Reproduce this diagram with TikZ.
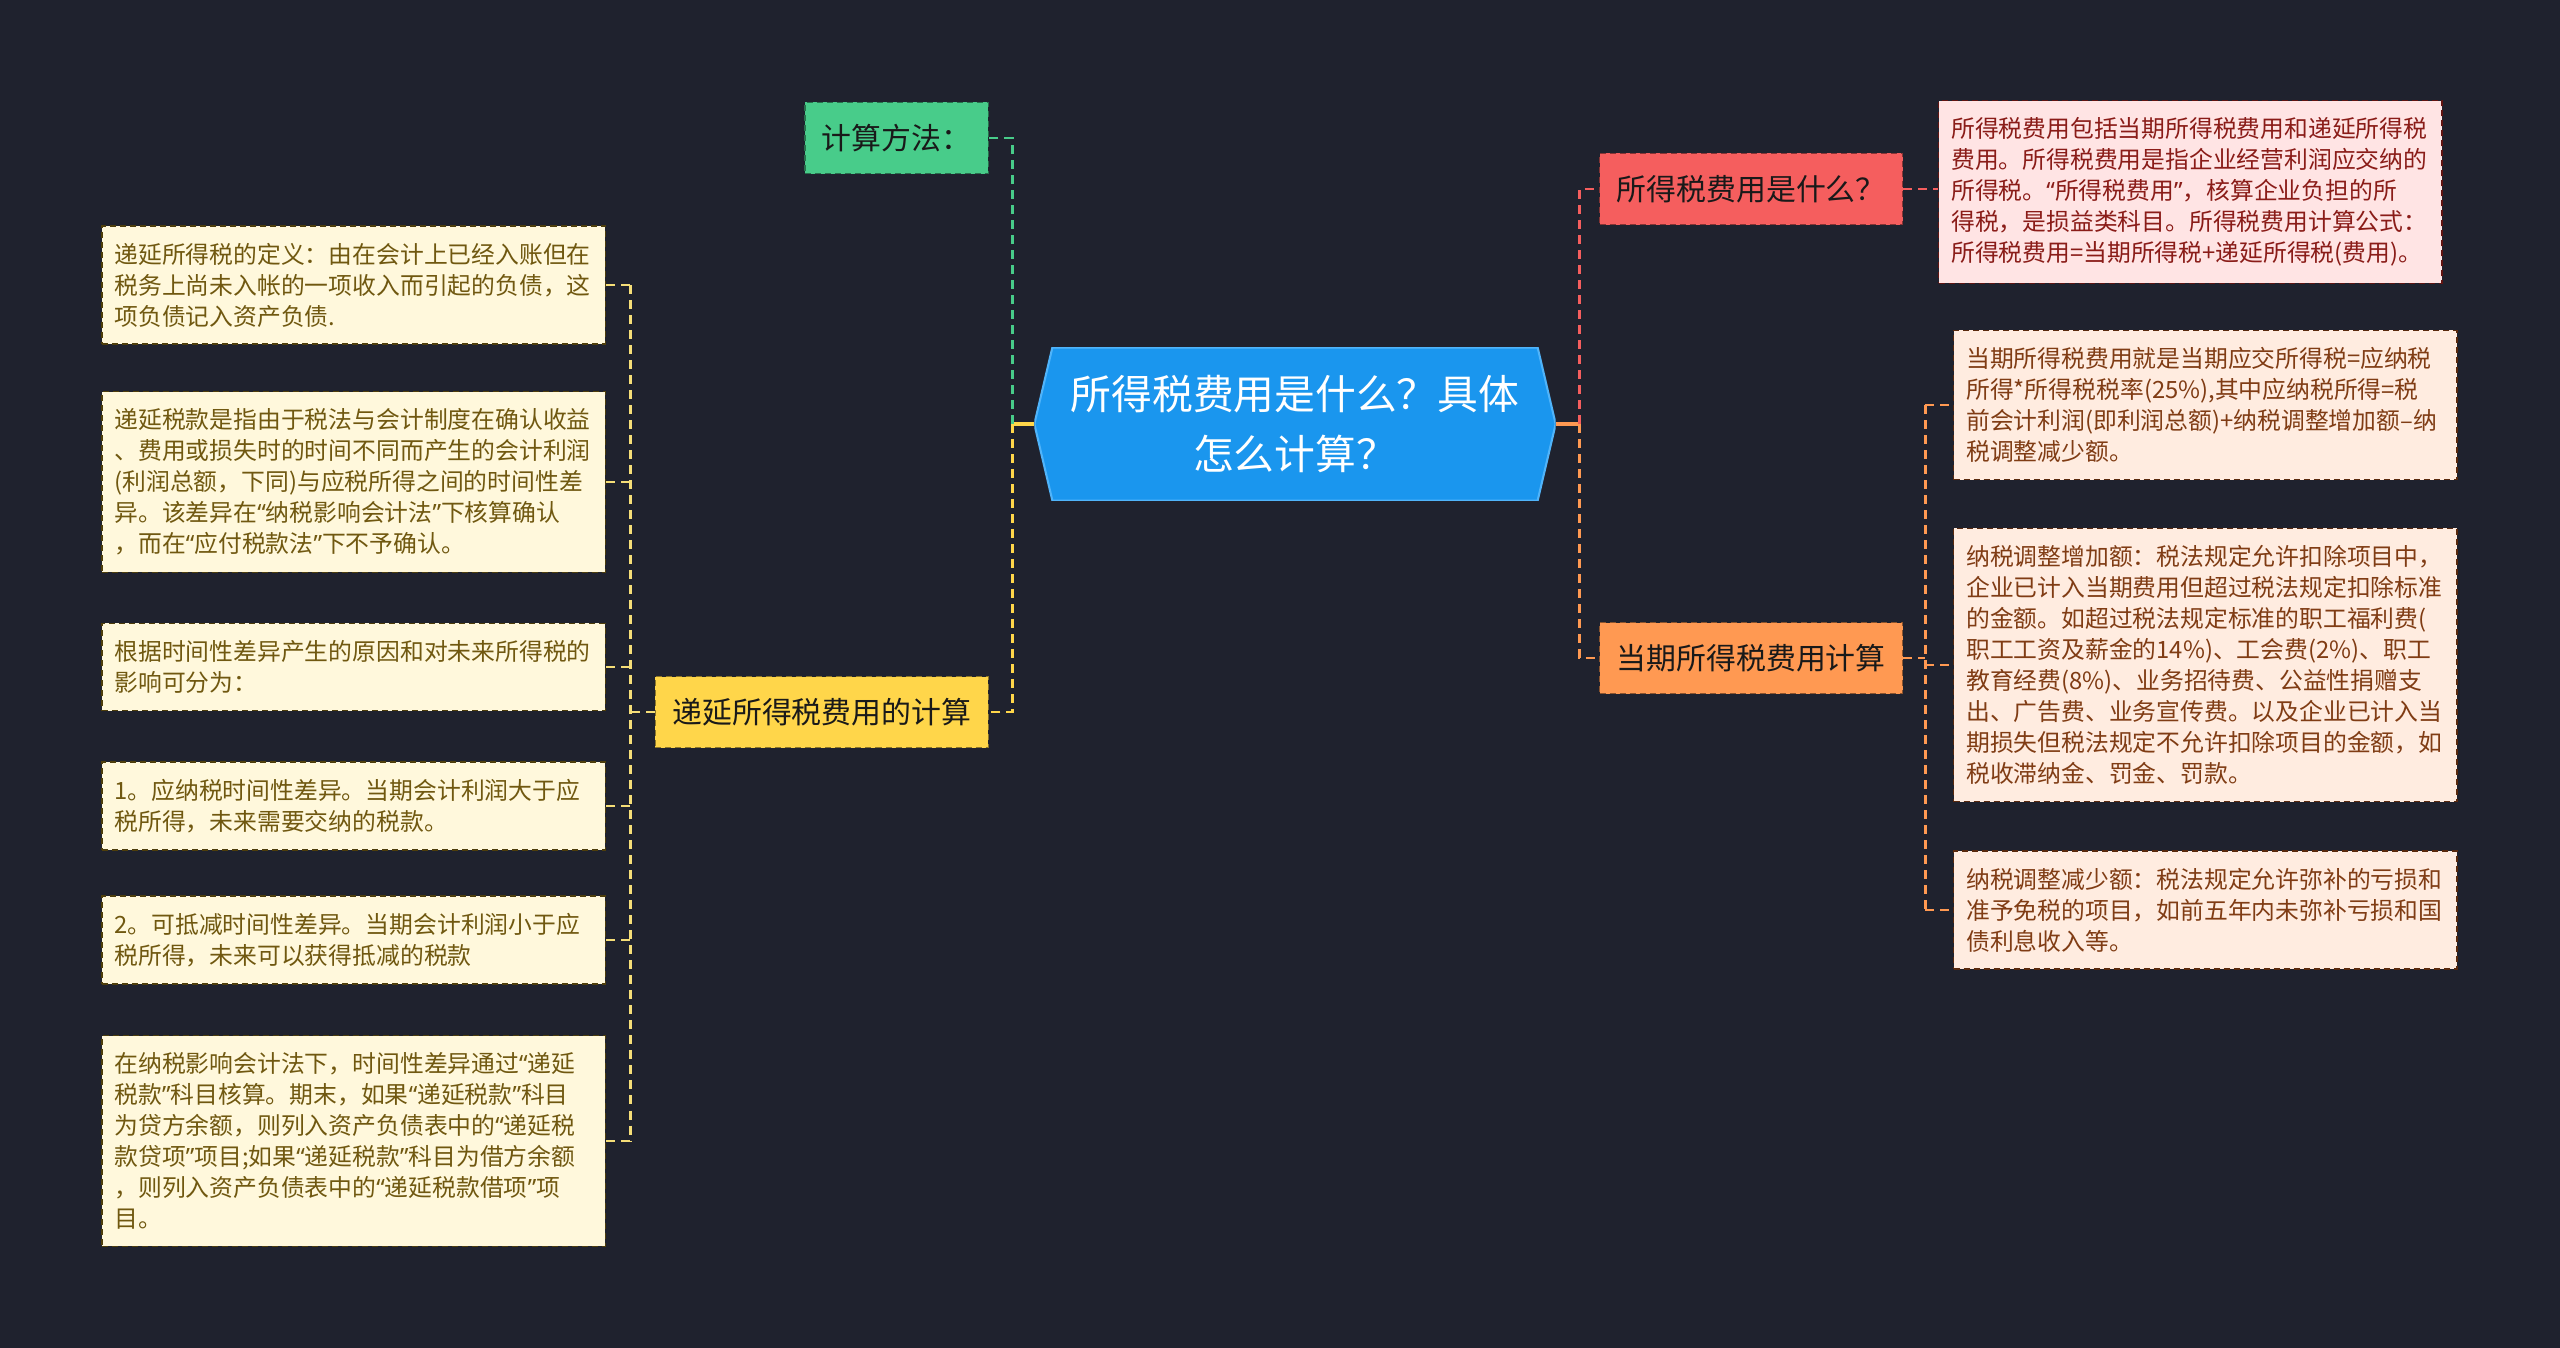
\documentclass[tikz,border=0pt]{standalone}
\usepackage{fontspec}
\setmainfont{Noto Sans CJK SC}
\newfontfamily\quotefont{Noto Sans}
\newcommand{\lqm}{{\quotefont “}}
\newcommand{\rqm}{{\quotefont ”}}
\usepackage{tikz}
\usetikzlibrary{calc}

\definecolor{bgnavy}{RGB}{31,34,46}
\definecolor{hexblue}{RGB}{26,150,238}
\definecolor{hexedge}{RGB}{80,180,250}
\definecolor{topgreen}{RGB}{72,204,138}
\definecolor{topyellow}{RGB}{255,214,74}
\definecolor{topred}{RGB}{245,94,94}
\definecolor{toporange}{RGB}{255,153,82}
\definecolor{leafcream}{RGB}{255,248,220}
\definecolor{leafpink}{RGB}{255,228,228}
\definecolor{leafpeach}{RGB}{255,236,224}
\definecolor{inkolive}{RGB}{112,88,16}
\definecolor{inkred}{RGB}{138,28,24}
\definecolor{inkbrown}{RGB}{128,60,20}
\definecolor{linkpale}{RGB}{245,222,120}

\tikzset{
	topic/.style={rectangle, fill=#1, draw=#1!55!black, line width=0.4pt, dash pattern=on 0.6mm off 0.4mm,
		inner xsep=0.17cm, minimum height=0.71cm, text=black!90, font=\fontsize{8.5pt}{10pt}\selectfont},
	leaf/.style={rectangle, line width=0.4pt, dash pattern=on 0.6mm off 0.4mm, text width=4.78cm, align=left,
		inner xsep=0.125cm, inner ysep=0.17cm, font=\fontsize{6.77pt}{8.82pt}\selectfont},
	cream/.style={leaf, fill=leafcream, draw=inkolive!70!black, text=inkolive},
	pink/.style={leaf, fill=leafpink, draw=inkred!70!black, text=inkred},
	peach/.style={leaf, fill=leafpeach, draw=inkbrown!70!black, text=inkbrown},
	hexnode/.style={minimum width=5.21cm, minimum height=1.53cm, inner sep=0pt, align=center, text=white,
		font=\fontsize{11.6pt}{17.3pt}\selectfont,
		path picture={
			\filldraw[fill=hexblue, draw=hexedge, line width=0.6pt]
				(path picture bounding box.west)
				-- ($(path picture bounding box.north west)+(0.18cm,0)$)
				-- ($(path picture bounding box.north east)+(-0.18cm,0)$)
				-- (path picture bounding box.east)
				-- ($(path picture bounding box.south east)+(-0.18cm,0)$)
				-- ($(path picture bounding box.south west)+(0.18cm,0)$)
				-- cycle;
		}},
	link/.style={line width=0.8pt, dash pattern=on 0.9mm off 0.6mm},
	stub/.style={line width=1.3pt}
}

\begin{document}
\begin{tikzpicture}[x=0.01cm, y=-0.01cm]
				\def\xL{606}
				\def\xR{1953}

				\useasboundingbox (0,0) rectangle (2560,1347);
				\fill[bgnavy] (-20,-20) rectangle (2580,1367);

				% centre
				\node[hexnode] (root) at (1295,424) {所得税费用是什么？具体\\怎么计算？};

				% first level
				\node[topic=topgreen, anchor=east] (method) at (989,138) {计算方法：};
				\node[topic=topyellow, anchor=east] (deferred) at (989,712) {递延所得税费用的计算};
				\node[topic=topred, anchor=west] (whatis) at (1599,189) {所得税费用是什么？};
				\node[topic=toporange, anchor=west] (current) at (1599,658) {当期所得税费用计算};

				% left leaves
				\node[cream, anchor=east] (d1) at (\xL,285) {递延所得税的定义：由在会计上已经入账但在\\税务上尚未入帐的一项收入而引起的负债，这\\项负债记入资产负债.};
				\node[cream, anchor=east] (d2) at (\xL,482) {递延税款是指由于税法与会计制度在确认收益\\、费用或损失时的时间不同而产生的会计利润\\(利润总额，下同)与应税所得之间的时间性差\\异。该差异在\lqm 纳税影响会计法\rqm 下核算确认\\，而在\lqm 应付税款法\rqm 下不予确认。};
				\node[cream, anchor=east] (d3) at (\xL,667) {根据时间性差异产生的原因和对未来所得税的\\影响可分为：};
				\node[cream, anchor=east] (d4) at (\xL,806) {1。应纳税时间性差异。当期会计利润大于应\\税所得，未来需要交纳的税款。};
				\node[cream, anchor=east] (d5) at (\xL,940) {2。可抵减时间性差异。当期会计利润小于应\\税所得，未来可以获得抵减的税款};
				\node[cream, anchor=east] (d6) at (\xL,1141) {在纳税影响会计法下，时间性差异通过\lqm 递延\\税款\rqm 科目核算。期末，如果\lqm 递延税款\rqm 科目\\为贷方余额，则列入资产负债表中的\lqm 递延税\\款贷项\rqm 项目;如果\lqm 递延税款\rqm 科目为借方余额\\，则列入资产负债表中的\lqm 递延税款借项\rqm 项\\目。};

				% right leaves
				\node[pink, anchor=west] (w1) at (1938,192) {所得税费用包括当期所得税费用和递延所得税\\费用。所得税费用是指企业经营利润应交纳的\\所得税。\lqm 所得税费用\rqm ，核算企业负担的所\\得税，是损益类科目。所得税费用计算公式：\\所得税费用=当期所得税+递延所得税(费用)。};
				\node[peach, anchor=west] (c1) at (\xR,405) {当期所得税费用就是当期应交所得税=应纳税\\所得*所得税税率(25\%),其中应纳税所得=税\\前会计利润(即利润总额)+纳税调整增加额–纳\\税调整减少额。};
				\node[peach, anchor=west] (c2) at (\xR,665) {纳税调整增加额：税法规定允许扣除项目中，\\企业已计入当期费用但超过税法规定扣除标准\\的金额。如超过税法规定标准的职工福利费(\\职工工资及薪金的14\%)、工会费(2\%)、职工\\教育经费(8\%)、业务招待费、公益性捐赠支\\出、广告费、业务宣传费。以及企业已计入当\\期损失但税法规定不允许扣除项目的金额，如\\税收滞纳金、罚金、罚款。};
				\node[peach, anchor=west] (c3) at (\xR,910) {纳税调整减少额：税法规定允许弥补的亏损和\\准予免税的项目，如前五年内未弥补亏损和国\\债利息收入等。};

				% joints
				\coordinate (lj) at ($(root.west)+(-21,0)$);
				\coordinate (rj) at ($(root.east)+(23,0)$);
				\coordinate (dj) at ($(deferred.west)+(-24,0)$);
				\coordinate (cj) at ($(current.east)+(22,0)$);

				\begin{scope}[link]
					\draw[stub, topyellow, solid] (root.west) -- (lj);
					\draw[topgreen] (lj) |- (method.east);
					\draw[topyellow] (lj) |- (deferred.east);

					\draw[stub, toporange, solid] (root.east) -- (rj);
					\draw[topred] (rj) |- (whatis.west);
					\draw[toporange] (rj) |- (current.west);
				\end{scope}

				\begin{scope}[link, linkpale]
					\draw (deferred.west) -- (dj);
					\draw (d1.east -| dj) -- (d6.east -| dj);
					\foreach \n in {d1,d2,d3,d4,d5,d6}
						\draw (\n.east) -- (\n.east -| dj);
				\end{scope}

				\begin{scope}[link, toporange]
					\draw[topred] (whatis.east) -- (whatis.east -| w1.west);
					\draw (current.east) -- (cj);
					\draw (c1.west -| cj) -- (c3.west -| cj);
					\foreach \n in {c1,c2,c3}
						\draw (\n.west -| cj) -- (\n.west);
				\end{scope}
			\end{tikzpicture}
\end{document}
